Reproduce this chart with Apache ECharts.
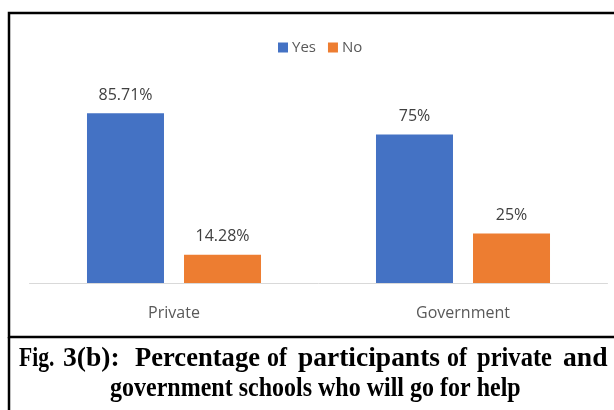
<!DOCTYPE html>
<html><head><meta charset="utf-8">
<script src="https://cdn.jsdelivr.net/npm/echarts@6/dist/echarts.min.js"></script>
<style>html,body{margin:0;padding:0;background:#fff}#c{width:614px;height:410px}</style>
</head><body><div id="c"></div>
<script>
const categories = ['Private', 'Government'];
const yesValues = [85.71, 75];
const noValues = [14.28, 25];
const yesLabels = ['85.71%', '75%'];
const noLabels = ['14.28%', '25%'];
const captionLine1Words = ['Fig.', '3(b):', 'Percentage', 'of', 'participants', 'of', 'private', 'and'];
const captionLine1Starts = [19, 63, 135, 267, 298, 447, 477, 563];
const captionLine1Widths = [34, 59, 125, 20, 142, 20, 75, 50];
const captionLine2 = 'government schools who will go for help';

const chart = echarts.init(document.getElementById('c'));
const capFont = 'bold 24px "Liberation Serif"';
const measureCtx = document.createElement('canvas').getContext('2d');
measureCtx.font = capFont;
const graphics = [
  {type: 'rect', shape: {x: 9, y: 13, width: 620, height: 324}, style: {fill: 'none', stroke: '#000', lineWidth: 2.5}, silent: true},
  {type: 'line', shape: {x1: 9, y1: 337, x2: 9, y2: 420}, style: {stroke: '#000', lineWidth: 2.5}, silent: true}
];
captionLine1Words.forEach((w, i) => {
  const natural = measureCtx.measureText(w).width;
  let sx = captionLine1Widths[i] / natural;
  sx = Math.max(0.9, Math.min(1.15, sx));
  graphics.push({type: 'text', x: captionLine1Starts[i], y: 345.5, scaleX: sx, scaleY: 1.12,
    style: {text: w, font: capFont, fill: '#000'}});
});
graphics.push({type: 'text', x: 110, y: 375.5, scaleY: 1.12,
  style: {text: captionLine2, font: capFont, fill: '#000'}});

chart.setOption({
  animation: false,
  backgroundColor: '#fff',
  legend: {
    top: 35, left: 273, itemWidth: 10, itemHeight: 10, itemGap: 12,
    icon: 'rect',
    textStyle: {fontFamily: 'Open Sans', fontSize: 15, color: '#595959', padding: [0,0,0,-1]},
    data: ['Yes', 'No']
  },
  grid: {left: 29.5, right: 6.5, top: 85, bottom: 127, containLabel: false},
  xAxis: {
    type: 'category', data: categories,
    axisLine: {lineStyle: {color: '#d9d9d9', width: 1}},
    axisTick: {show: false},
    axisLabel: {margin: 22, fontFamily: 'Open Sans', fontSize: 16, color: '#595959'}
  },
  yAxis: {type: 'value', min: 0, max: 100, show: false},
  series: [
    {name: 'Yes', type: 'bar', data: yesValues, barWidth: 77, barGap: '26%',
     itemStyle: {color: '#4472C4'},
     label: {show: true, position: 'top', distance: 10, formatter: p => yesLabels[p.dataIndex], fontFamily: 'Open Sans', fontSize: 16, color: '#404040'}},
    {name: 'No', type: 'bar', data: noValues, barWidth: 77,
     itemStyle: {color: '#ED7D31'},
     label: {show: true, position: 'top', distance: 10, formatter: p => noLabels[p.dataIndex], fontFamily: 'Open Sans', fontSize: 16, color: '#404040'}}
  ],
  graphic: graphics
});
</script></body></html>
